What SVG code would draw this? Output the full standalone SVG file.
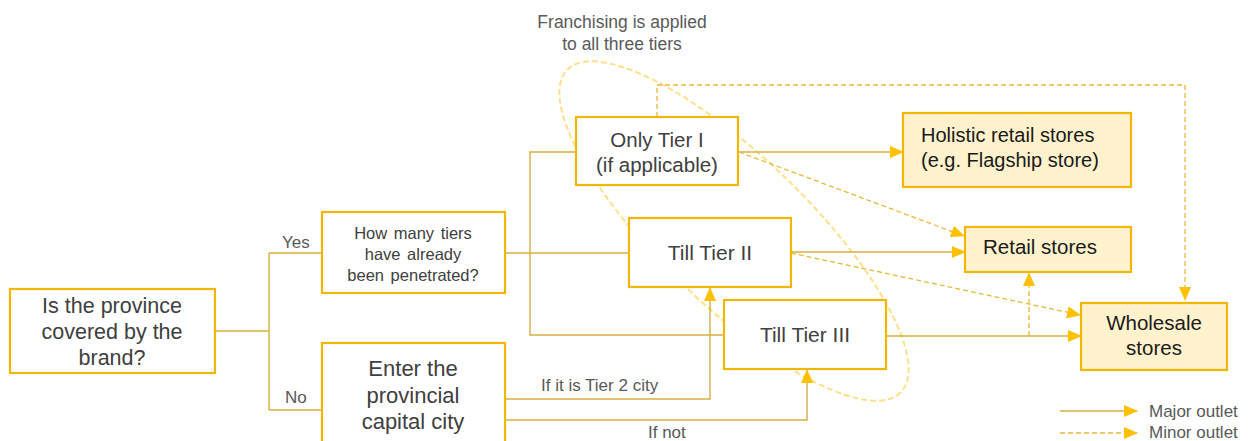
<svg xmlns="http://www.w3.org/2000/svg" width="1249" height="441" viewBox="0 0 1249 441">
<style>
text{font-family:"Liberation Sans",Arial,sans-serif;}
.box{fill:#FFFFFF;stroke:#F2B705;stroke-width:2.2;}
.out{fill:#FFF2CC;stroke:#F2B705;stroke-width:2.2;}
.t{fill:#404040;text-anchor:middle;}
.tb{fill:#1a1a1a;}
.lbl{fill:#595959;}
.c{fill:none;stroke:#D8B040;stroke-width:1.4;}
.d{fill:none;stroke:#E8BA3A;stroke-width:1.3;stroke-dasharray:5,3;}
</style>
<defs>
<marker id="ah" viewBox="0 0 14 12" refX="13" refY="6" markerWidth="14" markerHeight="12" markerUnits="userSpaceOnUse" orient="auto">
<path d="M0,0 L14,6 L0,12 Z" fill="#FFC000"/>
</marker>
</defs>
<ellipse cx="734" cy="231" rx="232" ry="74" transform="rotate(44 734 231)" fill="none" stroke="#FFE08A" stroke-width="2" stroke-dasharray="6,3"/>
<text class="lbl" x="622" y="28" text-anchor="middle" font-size="17.5">Franchising is applied</text>
<text class="lbl" x="622" y="50" text-anchor="middle" font-size="17.5">to all three tiers</text>
<g id="connectors">
<path class="c" d="M215,331 H269 M269,253 V410 M269,253 H322 M269,410 H322"/>
<path class="c" d="M505,253 H630"/>
<path class="c" d="M576,152 H530 V335 H725"/>
<path class="c" d="M739,152 H903" marker-end="url(#ah)"/>
<path class="c" d="M791,252 H965" marker-end="url(#ah)"/>
<path class="c" d="M886,336 H1081" marker-end="url(#ah)"/>
<path class="c" d="M505,399 H710 V288" marker-end="url(#ah)"/>
<path class="c" d="M505,420 H807 V370" marker-end="url(#ah)"/>
<path class="d" d="M739,152 L964,236" marker-end="url(#ah)"/>
<path class="d" d="M791,253 L1080,315" marker-end="url(#ah)"/>
<path class="d" d="M657,117 V85 H1185 V300" marker-end="url(#ah)"/>
<path class="d" d="M1029,336 V273" marker-end="url(#ah)"/>
<text class="lbl" x="282" y="248" font-size="17">Yes</text>
<text class="lbl" x="285" y="403" font-size="17">No</text>
<text class="lbl" x="541" y="391" font-size="17">If it is Tier 2 city</text>
<text class="lbl" x="648" y="438" font-size="17">If not</text>
</g>
<g id="n-province">
<rect class="box" x="10" y="289" width="205" height="84"/>
<text class="t" x="112" y="313" font-size="21.5">Is the province</text>
<text class="t" x="112" y="339" font-size="21.5">covered by the</text>
<text class="t" x="112" y="365" font-size="21.5">brand?</text>
</g>
<g id="n-howmany">
<rect class="box" x="322" y="212" width="183" height="81"/>
<text class="t" x="413" y="239" font-size="16.5" word-spacing="2">How many tiers</text>
<text class="t" x="413" y="260" font-size="16.5" word-spacing="2">have already</text>
<text class="t" x="413" y="281" font-size="16.5" word-spacing="2">been penetrated?</text>
</g>
<g id="n-enter">
<rect class="box" x="322" y="343" width="183" height="110"/>
<text class="t" x="413" y="376" font-size="22">Enter the</text>
<text class="t" x="413" y="403" font-size="22">provincial</text>
<text class="t" x="413" y="429" font-size="22">capital city</text>
</g>
<g id="n-tier1">
<rect class="box" x="576" y="117" width="162" height="68"/>
<text class="t" x="657" y="147" font-size="20.5">Only Tier I</text>
<text class="t" x="657" y="172" font-size="20.5">(if applicable)</text>
</g>
<g id="n-tier2">
<rect class="box" x="629" y="218" width="162" height="69"/>
<text class="t" x="710" y="260" font-size="21">Till Tier II</text>
</g>
<g id="n-tier3">
<rect class="box" x="724" y="300" width="162" height="69"/>
<text class="t" x="805" y="342" font-size="21">Till Tier III</text>
</g>
<g id="n-holistic">
<rect class="out" x="903" y="113" width="228" height="74"/>
<text class="tb" x="921" y="142" font-size="20">Holistic retail stores</text>
<text class="tb" x="921" y="167" font-size="20">(e.g. Flagship store)</text>
</g>
<g id="n-retail">
<rect class="out" x="965" y="227" width="166" height="45"/>
<text class="tb" x="983" y="254" font-size="20.5">Retail stores</text>
</g>
<g id="n-wholesale">
<rect class="out" x="1081" y="303" width="146" height="67"/>
<text class="tb" x="1154" y="330" font-size="20.5" text-anchor="middle">Wholesale</text>
<text class="tb" x="1154" y="355" font-size="20.5" text-anchor="middle">stores</text>
</g>
<g id="legend">
<path class="c" d="M1060,411 H1137" marker-end="url(#ah)"/>
<path class="d" d="M1060,433 H1137" marker-end="url(#ah)"/>
<text class="lbl" x="1149" y="417" font-size="17">Major outlet</text>
<text class="lbl" x="1149" y="438" font-size="17">Minor outlet</text>
</g>
</svg>
